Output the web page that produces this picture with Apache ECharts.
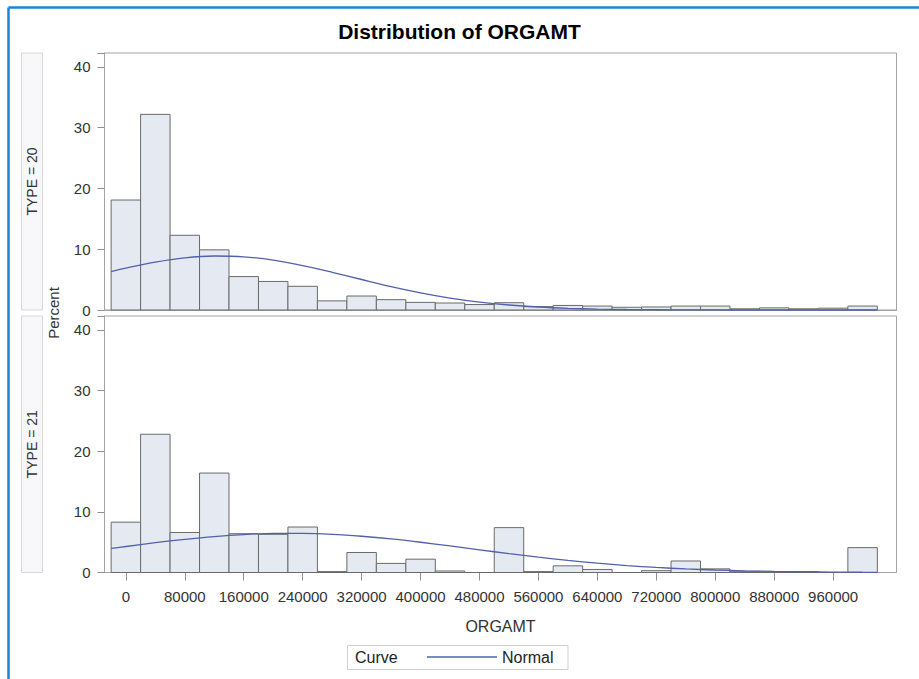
<!DOCTYPE html>
<html>
<head>
<meta charset="utf-8">
<script src="https://cdn.jsdelivr.net/npm/echarts@6/dist/echarts.min.js"></script>
<style>
html,body{margin:0;padding:0;background:#fff;}
#chart{width:919px;height:679px;}
</style>
</head>
<body>
<div id="chart"></div>
<script>
// ---- data ----
const binWidth = 40000;
const binCenters = [0, 40000, 80000, 120000, 160000, 200000, 240000, 280000, 320000, 360000,
  400000, 440000, 480000, 520000, 560000, 600000, 640000, 680000, 720000, 760000,
  800000, 840000, 880000, 920000, 960000, 1000000];
const type20Pct = [18.1, 32.2, 12.3, 9.9, 5.5, 4.7, 3.9, 1.5, 2.3, 1.7,
  1.25, 1.15, 0.9, 1.2, 0.55, 0.75, 0.65, 0.45, 0.5, 0.65,
  0.65, 0.2, 0.35, 0.2, 0.3, 0.65];
const type21Pct = [8.3, 22.8, 6.6, 16.4, 6.4, 6.3, 7.5, 0.15, 3.3, 1.5,
  2.2, 0.25, 0, 7.4, 0.15, 1.1, 0.5, 0, 0.3, 1.9,
  0.6, 0.2, 0.1, 0.15, 0, 4.1];
const curveX = [-20000, 0, 40000, 80000, 120000, 160000, 200000, 240000, 280000, 320000,
  360000, 400000, 440000, 480000, 520000, 560000, 600000, 640000, 680000, 720000,
  760000, 800000, 840000, 880000, 920000, 960000, 1000000, 1020000];
const normal20 = [6.33, 6.90, 7.89, 8.59, 8.89, 8.76, 8.21, 7.32, 6.21, 5.02,
  3.85, 2.82, 1.96, 1.30, 0.82, 0.49, 0.28, 0.15, 0.08, 0.04,
  0.02, 0.01, 0, 0, 0, 0, 0, 0];
const normal21 = [3.97, 4.29, 4.91, 5.47, 5.93, 6.26, 6.44, 6.45, 6.30, 5.98,
  5.54, 4.99, 4.38, 3.74, 3.11, 2.52, 1.99, 1.53, 1.14, 0.83,
  0.59, 0.41, 0.28, 0.18, 0.12, 0.07, 0.04, 0.03];
const xTicks = [0, 80000, 160000, 240000, 320000, 400000, 480000, 560000, 640000, 720000, 800000, 880000, 960000];
const yTicks = [0, 10, 20, 30, 40];
const panelLabels = ['TYPE = 20', 'TYPE = 21'];
const titleText = 'Distribution of ORGAMT';
const xName = 'ORGAMT';
const yName = 'Percent';
const legendTitle = 'Curve';
const curveName = 'Normal';

// ---- styles ----
const FONT = '"Liberation Sans", Arial, sans-serif';
const frameColor = '#a3a3a3';
const tickColor = '#8f8f8f';
const barFill = '#e5e9f1';
const barStroke = '#6a6a6a';
const curveColor = '#5161ab';
const textColor = '#333';

const chart = echarts.init(document.getElementById('chart'), null, {renderer: 'svg'});

function renderBar(params, api) {
  const c = api.value(0), v = api.value(1);
  const p0 = api.coord([c - binWidth / 2, 0]);
  const p1 = api.coord([c + binWidth / 2, v]);
  return {
    type: 'rect',
    shape: {x: p0[0], y: p1[1], width: p1[0] - p0[0], height: p0[1] - p1[1]},
    style: {fill: barFill, stroke: barStroke, lineWidth: 1}
  };
}

const grids = [
  {left: 104.5, top: 53, width: 792, height: 257},
  {left: 104.5, top: 316, width: 792, height: 256.5}
].map(g => Object.assign(g, {show: true, borderColor: frameColor, borderWidth: 1, backgroundColor: '#fff'}));

function xAxisFor(i) {
  const bottom = i === 1;
  return {
    type: 'value', gridIndex: i, min: -29000, max: 1046000, position: 'bottom',
    splitLine: {show: false},
    axisLine: {show: true, onZero: false, lineStyle: {color: frameColor, width: 1}},
    axisTick: {show: bottom, length: 8, lineStyle: {color: tickColor}, customValues: xTicks},
    axisLabel: {show: bottom, customValues: xTicks, fontSize: 15, fontFamily: FONT, color: textColor, margin: 16,
      formatter: v => String(v)},
    name: bottom ? xName : '',
    nameLocation: 'middle', nameGap: 46,
    nameTextStyle: {fontSize: 16, fontFamily: FONT, color: textColor}
  };
}
function yAxisFor(i) {
  return {
    type: 'value', gridIndex: i, min: yTicks[0], max: 42.3, interval: yTicks[1] - yTicks[0],
    splitLine: {show: false},
    axisLine: {show: true, onZero: false, lineStyle: {color: frameColor, width: 1}},
    axisTick: {show: true, length: 7, lineStyle: {color: tickColor, width: 1}},
    axisLabel: {fontSize: 15, fontFamily: FONT, color: textColor, margin: 14,
      formatter: v => (yTicks.indexOf(v) >= 0 ? String(v) : '')}
  };
}

const stripGraphics = [];
[[53, 257], [316, 256.5]].forEach((g, i) => {
  stripGraphics.push({
    type: 'rect', shape: {x: 21.5, y: g[0], width: 21, height: g[1]},
    style: {fill: '#f8f8fa', stroke: '#d6d6d6', lineWidth: 1}, z: 10
  });
  stripGraphics.push({
    type: 'text', x: 32, y: g[0] + g[1] / 2, rotation: Math.PI / 2,
    style: {text: panelLabels[i], fontSize: 14, fontFamily: FONT, fill: textColor, align: 'center', verticalAlign: 'middle'}, z: 11
  });
});

const option = {
  animation: false,
  backgroundColor: '#fff',
  title: {
    text: titleText, left: 'center', top: 16,
    textStyle: {fontSize: 21, fontWeight: 'bold', fontFamily: FONT, color: '#000'}
  },
  grid: grids,
  xAxis: [xAxisFor(0), xAxisFor(1)],
  yAxis: [yAxisFor(0), yAxisFor(1)],
  legend: {
    data: [{name: curveName, icon: 'rect'}], left: 422, top: 644,
    itemWidth: 70, itemHeight: 1.4,
    textStyle: {fontSize: 16, fontFamily: FONT, color: '#222'}
  },
  series: [
    {type: 'custom', xAxisIndex: 0, yAxisIndex: 0, renderItem: renderBar,
      encode: {x: 0, y: 1}, data: binCenters.map((c, i) => [c, type20Pct[i]]), z: 2},
    {type: 'custom', xAxisIndex: 1, yAxisIndex: 1, renderItem: renderBar,
      encode: {x: 0, y: 1}, data: binCenters.map((c, i) => [c, type21Pct[i]]), z: 2},
    {type: 'line', name: curveName, xAxisIndex: 0, yAxisIndex: 0, smooth: 0.3, symbol: 'none',
      lineStyle: {color: curveColor, width: 1.3}, itemStyle: {color: curveColor},
      data: curveX.map((x, i) => [x, normal20[i]]), z: 3},
    {type: 'line', name: curveName, xAxisIndex: 1, yAxisIndex: 1, smooth: 0.3, symbol: 'none',
      lineStyle: {color: curveColor, width: 1.3}, itemStyle: {color: curveColor},
      data: curveX.map((x, i) => [x, normal21[i]]), z: 3}
  ],
  graphic: [
    {type: 'line', shape: {x1: 8.5, y1: 7.5, x2: 919, y2: 7.5}, style: {stroke: '#1b84d4', lineWidth: 2.5}, z: 20},
    {type: 'line', shape: {x1: 8.5, y1: 7.5, x2: 8.5, y2: 679}, style: {stroke: '#1b84d4', lineWidth: 2.5}, z: 20},
    {type: 'text', x: 53, y: 313, rotation: Math.PI / 2,
      style: {text: yName, fontSize: 15, fontFamily: FONT, fill: textColor, align: 'center', verticalAlign: 'middle'}, z: 11},
    {type: 'rect', shape: {x: 347.5, y: 645.5, width: 220.5, height: 24},
      style: {fill: 'rgba(255,255,255,0)', stroke: '#cfcfcf', lineWidth: 1}, z: 5},
    {type: 'text', x: 355, y: 657.5,
      style: {text: legendTitle, fontSize: 16, fontFamily: FONT, fill: '#222', align: 'left', verticalAlign: 'middle'}, z: 11}
  ].concat(stripGraphics)
};
chart.setOption(option);
</script>
</body>
</html>
